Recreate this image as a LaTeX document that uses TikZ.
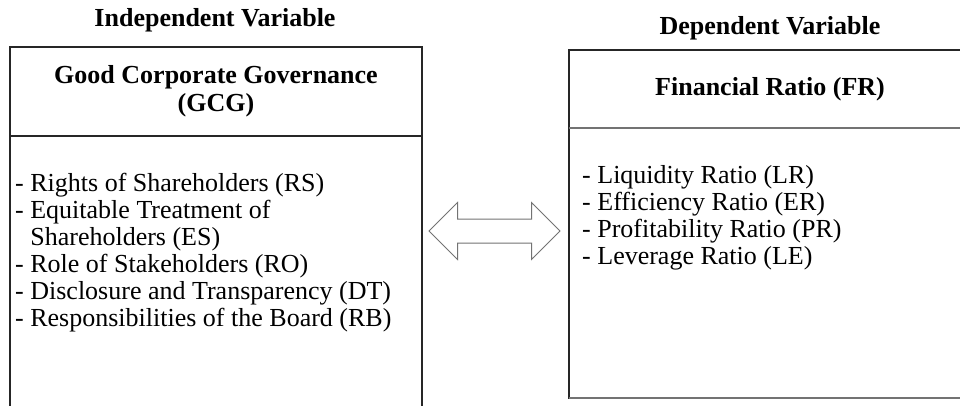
\documentclass[tikz,border=0pt]{standalone}
\usepackage{fontspec}
\setmainfont{Liberation Serif}
\usetikzlibrary{positioning, shapes.arrows}

\begin{document}
\begin{tikzpicture}[x=1pt, y=-1pt, font=\fontsize{26}{27}\selectfont,
	varlbl/.style={font=\bfseries\fontsize{26}{27}\selectfont},
	headbox/.style={draw=black!85, line width=1.4pt, outer sep=0pt, anchor=north west, align=center, font=\bfseries\fontsize{26}{28}\selectfont},
	bodybox/.style={draw=black!85, line width=1.4pt, outer sep=0pt, anchor=north west},
	items/.style={align=left, anchor=north west, inner sep=0pt}]
	\useasboundingbox (0,0) rectangle (960,405);
	\clip (0,0) rectangle (960,405);

	\node[varlbl] (indep) at (215,20) {Independent Variable};
	\node[varlbl] (dep) at (770,28) {Dependent Variable};

	\node[headbox, minimum width=412pt, minimum height=89pt] (gcg) at (10,47) {Good Corporate Governance\\(GCG)};
	\node[bodybox, minimum width=412pt, minimum height=300pt] (gcgbody) at (gcg.south west) {};
	\node[items, below right=37pt and 5pt of gcgbody.north west] (gcglist) {- Rights of Shareholders (RS)\\- Equitable Treatment of\\\hphantom{- }Shareholders (ES)\\- Role of Stakeholders (RO)\\- Disclosure and Transparency (DT)\\- Responsibilities of the Board (RB)};

	\node[headbox, minimum width=402pt, minimum height=78pt] (fr) at (569,50) {Financial Ratio (FR)};
	\node[bodybox, minimum width=402pt, minimum height=270pt] (frbody) at (fr.south west) {};
	\draw[black!55, line width=1.4pt] (fr.south west) -- (fr.south east);
	\draw[black!55, line width=1.4pt] (frbody.south west) -- (frbody.south east);
	\node[items, below right=37pt and 13pt of frbody.north west] (frlist) {- Liquidity Ratio (LR)\\- Efficiency Ratio (ER)\\- Profitability Ratio (PR)\\- Leverage Ratio (LE)};

	\node[double arrow, draw=black!55, fill=white, line width=1pt, inner sep=0pt, inner ysep=11.5pt, double arrow head extend=16.5pt, minimum height=131pt] (rel) at (494.5,231) {};
\end{tikzpicture}
\end{document}
